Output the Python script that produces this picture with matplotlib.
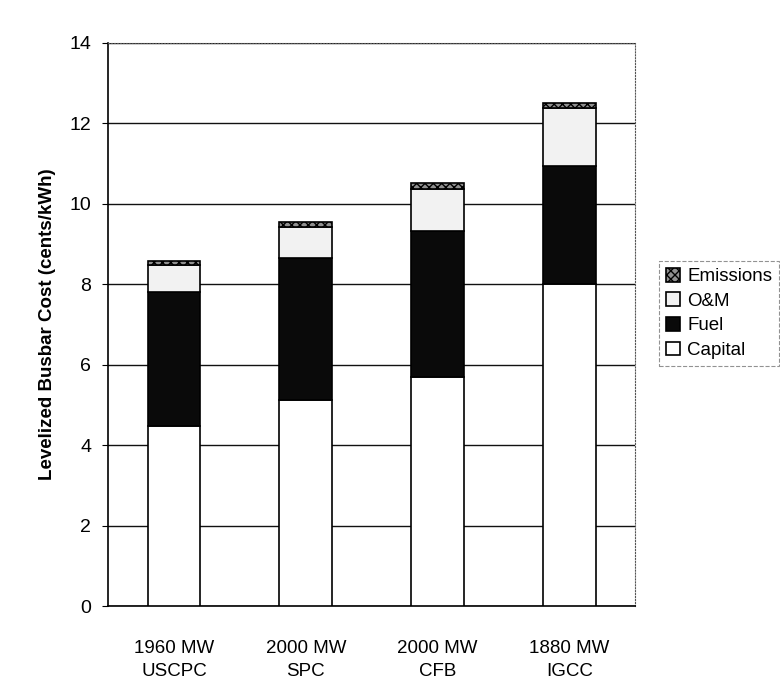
import matplotlib.pyplot as plt
import numpy as np

plt.rcParams['font.family'] = ['Liberation Sans', 'DejaVu Sans']

# plant types and cost components (cents/kWh)
plants = ['1960 MW\nUSCPC', '2000 MW\nSPC', '2000 MW\nCFB', '1880 MW\nIGCC']
capital = [4.48, 5.12, 5.70, 8.02]
fuel = [3.33, 3.54, 3.63, 2.93]
om = [0.67, 0.77, 1.04, 1.44]
emissions = [0.10, 0.12, 0.15, 0.12]

fig = plt.figure(figsize=(7.8, 7.0), dpi=100)
ax = fig.add_axes([0.1385, 0.134, 0.676, 0.8046])

x = np.arange(len(plants))
w = 0.40
b1 = np.array(capital)
b2 = b1 + np.array(fuel)
b3 = b2 + np.array(om)

ax.set_axisbelow(True)
ax.yaxis.grid(True, color='#111111', lw=1.0)

h_cap = ax.bar(x, capital, w, color='white', edgecolor='black', lw=1.2, zorder=3)
h_fuel = ax.bar(x, fuel, w, bottom=b1, color='#0a0a0a', edgecolor='black', lw=1.2, zorder=3)
h_om = ax.bar(x, om, w, bottom=b2, color='#f2f2f2', edgecolor='black', lw=1.2, zorder=3)
h_em = ax.bar(x, emissions, w, bottom=b3, color='#909090', edgecolor='black', lw=1.2,
              hatch='xxxx', zorder=3)

ax.set_xlim(-0.5, 3.5)
ax.set_ylim(0, 14)
ax.set_yticks(range(0, 15, 2))
ax.set_xticks(x)
ax.set_xticklabels(plants, fontsize=13.5, linespacing=1.5)
ax.tick_params(axis='x', length=0, pad=24)
ax.tick_params(axis='y', labelsize=14, length=4, pad=8)
ax.set_ylabel('Levelized Busbar Cost (cents/kWh)', fontsize=13.5, fontweight='bold', labelpad=10)

for s in ['top', 'right']:
    ax.spines[s].set_linestyle(':')
    ax.spines[s].set_color('#555555')
for s in ['left', 'bottom']:
    ax.spines[s].set_color('black')
    ax.spines[s].set_linewidth(1.2)

leg = fig.legend([h_em, h_om, h_fuel, h_cap], ['Emissions', 'O&M', 'Fuel', 'Capital'],
                 loc='upper left', bbox_to_anchor=(0.833, 0.64), fontsize=13.5,
                 frameon=True, fancybox=False, handlelength=0.75, handleheight=0.75,
                 handletextpad=0.4, labelspacing=0.38, borderpad=0.35)
leg.get_frame().set_edgecolor('#777777')
leg.get_frame().set_linestyle('--')
leg.get_frame().set_linewidth(0.8)

fig.savefig('out.png', dpi=100)
